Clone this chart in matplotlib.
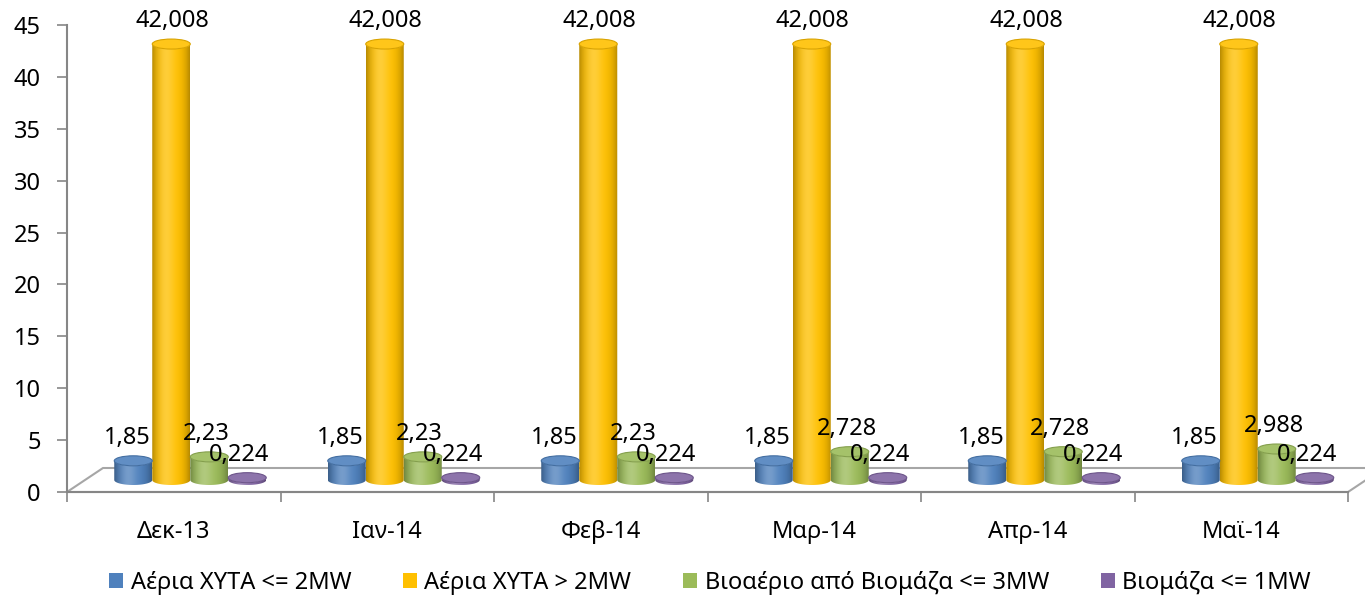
import numpy as np
import matplotlib.pyplot as plt
from matplotlib.patches import Ellipse, Polygon, Patch
import matplotlib.colors as mcolors

plt.rcParams['font.family'] = ['Noto Sans', 'DejaVu Sans']

months = ['Δεκ-13', 'Ιαν-14', 'Φεβ-14', 'Μαρ-14', 'Απρ-14', 'Μαϊ-14']
series_names = ['Αέρια ΧΥΤΑ <= 2MW', 'Αέρια ΧΥΤΑ > 2MW',
                'Βιοαέριο από Βιομάζα <= 3MW', 'Βιομάζα <= 1MW']
xyta_small = [1.85, 1.85, 1.85, 1.85, 1.85, 1.85]
xyta_large = [42.008, 42.008, 42.008, 42.008, 42.008, 42.008]
biogas = [2.23, 2.23, 2.23, 2.728, 2.728, 2.988]
biomass = [0.224, 0.224, 0.224, 0.224, 0.224, 0.224]
series = [xyta_small, xyta_large, biogas, biomass]
colors = ['#4F81BD', '#FFC000', '#9BBB59', '#8064A2']

W, H = 1365, 602
fig = plt.figure(figsize=(W / 100, H / 100), dpi=100)
ax = fig.add_axes([67 / W, 1 - 492 / H, (1348 - 67) / W, (492 - 25) / H])
ax.set_xlim(0, 6)
ax.set_ylim(0, 45)

# pixel -> data unit helpers
px_x = 6 / (1348 - 67)
px_y = 45 / (492 - 25)

# 3D floor
depth_x, depth_y = 36 * px_x, 24 * px_y
floor = Polygon([(0, 0), (6, 0), (6 + depth_x, depth_y), (depth_x, depth_y)],
                closed=True, facecolor='white', edgecolor='#A6A6A6', lw=1.5,
                clip_on=False, zorder=1)
ax.add_patch(floor)


def shade(c, n=60):
    base = np.array(mcolors.to_rgb(c))
    s = np.linspace(-1, 1, n)
    light = 0.22 * np.exp(-((s + 0.25) / 0.45) ** 2)
    dark = 0.28 * np.abs(s) ** 3
    rgb = base[None, :] * (1 - dark[:, None])
    rgb = rgb + (1 - rgb) * light[:, None]
    return np.clip(rgb, 0, 1)[None, :, :]


bw = 38 * px_x
eh = 10 * px_y
y0 = depth_y / 2
gx = 16.5 * px_x
label_dx = [-6 * px_x, 1 * px_x, -3 * px_x, -8 * px_x]
FS = 17

for k, vals in enumerate(series):
    for i, v in enumerate(vals):
        xc = i + 0.5 + gx + (k - 1.5) * bw
        x1, x2 = xc - bw / 2, xc + bw / 2
        top = y0 + v
        # body outline: bottom front arc then top front arc
        t = np.linspace(np.pi, 2 * np.pi, 40)
        bot = np.column_stack([xc + bw / 2 * np.cos(t), y0 + eh / 2 * np.sin(t)])
        t2 = np.linspace(0, -np.pi, 40)
        tp = np.column_stack([xc + bw / 2 * np.cos(t2), top + eh / 2 * np.sin(t2)])
        body = Polygon(np.vstack([bot, tp]), closed=True, facecolor='none',
                       edgecolor='none', zorder=3)
        ax.add_patch(body)
        im = ax.imshow(shade(colors[k]), extent=[x1, x2, y0 - eh, top + eh],
                       aspect='auto', zorder=3, interpolation='bilinear')
        im.set_clip_path(body)
        base = np.array(mcolors.to_rgb(colors[k]))
        cap = Ellipse((xc, top), bw, eh, facecolor=base + (1 - base) * 0.1,
                      edgecolor=base * 0.85, lw=0.8, zorder=4)
        ax.add_patch(cap)
        lab = ('%g' % v).replace('.', ',')
        ax.text(xc + label_dx[k], top + 23 * px_y, lab, ha='center', va='center',
                fontsize=FS, color='black', zorder=6)

ax.set_xticks(range(7))
ax.set_xticklabels([])
ax.set_xticks(np.arange(6) + 0.5, minor=True)
ax.set_xticklabels(months, minor=True, fontsize=FS)
ax.tick_params(axis='x', which='major', length=7, width=1.2, color='#868686',
               direction='out')
ax.tick_params(axis='x', which='minor', length=0, pad=20)
ax.set_yticks(range(0, 46, 5))
ax.tick_params(axis='y', length=7, width=1.2, color='#868686', pad=12,
               labelsize=FS)

for side in ['top', 'right']:
    ax.spines[side].set_visible(False)
for side in ['left', 'bottom']:
    ax.spines[side].set_color('#868686')
    ax.spines[side].set_linewidth(1.5)
ax.set_facecolor('none')

handles = [Patch(facecolor=c, edgecolor='none') for c in colors]
fig.legend(handles, series_names, loc='center', ncol=4,
           bbox_to_anchor=(710 / W, 1 - 583 / H), frameon=False, fontsize=FS,
           handlelength=0.6, handleheight=0.6, handletextpad=0.3,
           columnspacing=2.2)

fig.savefig('out.png', dpi=100)
